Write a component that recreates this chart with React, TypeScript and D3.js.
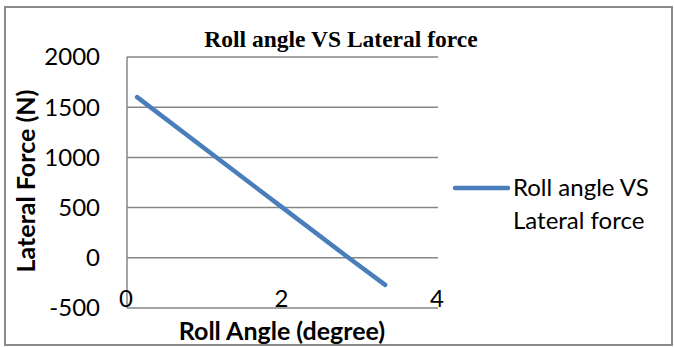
import React from "react";
import * as d3 from "d3";

const rollAngles = [0.13, 2.0, 2.85, 3.32];
const lateralForces = [1600, 500, 0, -270];
const yTicks = [-500, 0, 500, 1000, 1500, 2000];
const xTicks = [0, 2, 4];
const chartTitle = "Roll angle VS Lateral force";
const xTitle = "Roll Angle (degree)";
const yTitle = "Lateral Force (N)";
const seriesName = ["Roll angle VS", "Lateral force"];

const W = 674;
const H = 347;
const plot = { left: 127, right: 438, top: 57, bottom: 308 };
const sans = "Lato, 'Open Sans', sans-serif";
const gridColor = "#868686";
const lineColor = "#4a7ebb";

export default function App() {
  const x = d3.scaleLinear().domain([0, 4]).range([plot.left, plot.right]);
  const y = d3.scaleLinear().domain([-500, 2000]).range([plot.bottom, plot.top]);
  const data = rollAngles.map((a, i) => [a, lateralForces[i]] as [number, number]);
  const line = d3
    .line<[number, number]>()
    .x((d) => x(d[0]))
    .y((d) => y(d[1]));

  return (
    <svg
      width={W}
      height={H}
      style={{ position: "absolute", left: 0, top: 0, background: "#fff" }}
    >
      <rect x={5} y={7} width={667} height={338} fill="#fff" stroke="#8c8c8c" strokeWidth={2} />
      <text
        x={341}
        y={47}
        textAnchor="middle"
        fontFamily="'Liberation Serif', 'Times New Roman', serif"
        fontWeight="bold"
        fontSize={23.5}
        fill="#000"
      >
        {chartTitle}
      </text>
      {yTicks.map((t) => (
        <line
          key={"g" + t}
          x1={plot.left}
          x2={plot.right}
          y1={y(t)}
          y2={y(t)}
          stroke={gridColor}
          strokeWidth={1.5}
        />
      ))}
      <line x1={plot.left} x2={plot.left} y1={plot.top} y2={plot.bottom} stroke={gridColor} strokeWidth={1.5} />
      {yTicks.map((t) => (
        <text
          key={"yl" + t}
          x={100}
          y={y(t)}
          dy="0.35em"
          textAnchor="end"
          fontFamily={sans}
          fontSize={24}
          fill="#000"
        >
          {t}
        </text>
      ))}
      {xTicks.map((t) => (
        <text
          key={"xl" + t}
          x={x(t) - 1}
          y={307}
          textAnchor="middle"
          fontFamily={sans}
          fontSize={24}
          fill="#000"
        >
          {t}
        </text>
      ))}
      <path
        d={line(data) || ""}
        fill="none"
        stroke={lineColor}
        strokeWidth={4.5}
        strokeLinecap="round"
        strokeLinejoin="round"
      />
      <text
        x={282}
        y={340}
        textAnchor="middle"
        fontFamily={sans}
        fontWeight="bold"
        fontSize={25}
        fill="#000"
      >
        {xTitle}
      </text>
      <text
        transform={`translate(35, 181) rotate(-90)`}
        textAnchor="middle"
        fontFamily={sans}
        fontWeight="bold"
        fontSize={25}
        fill="#000"
      >
        {yTitle}
      </text>
      <line x1={455} x2={508} y1={188} y2={188} stroke={lineColor} strokeWidth={4.5} strokeLinecap="round" />
      {seriesName.map((s, i) => (
        <text
          key={s}
          x={513}
          y={196 + i * 33}
          fontFamily={sans}
          fontSize={24}
          fill="#000"
        >
          {s}
        </text>
      ))}
    </svg>
  );
}
